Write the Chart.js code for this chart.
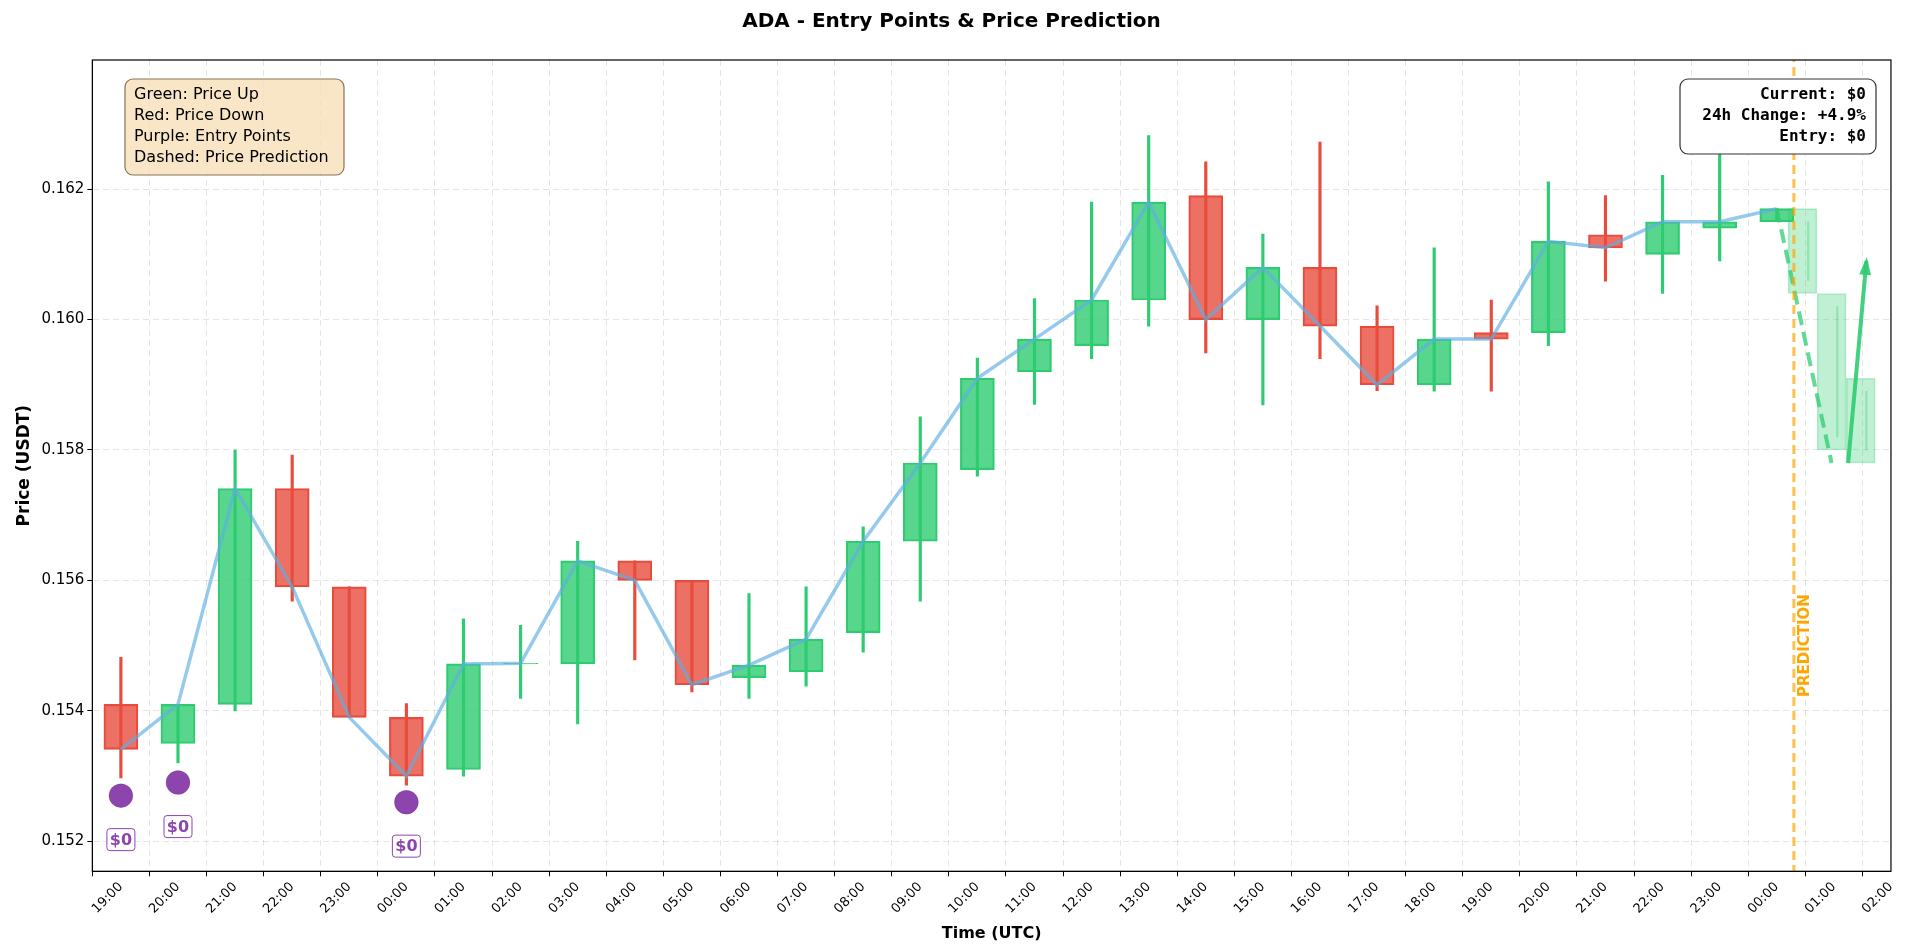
<!DOCTYPE html>
<html lang="en">
<head>
  <meta charset="UTF-8" />
  <title>ADA - Entry Points & Price Prediction</title>
  <script src="https://cdn.jsdelivr.net/npm/chart.js"></script>
  <style>
    body { margin: 0; background: #fff; }
    #wrap { width: 1905px; height: 947px; }
  </style>
</head>
<body>
  <div id="wrap"><canvas id="chart" width="1905" height="947"></canvas></div>
  <script>
    const timeLabels = ["19:00","20:00","21:00","22:00","23:00","00:00","01:00","02:00","03:00","04:00","05:00","06:00","07:00","08:00","09:00","10:00","11:00","12:00","13:00","14:00","15:00","16:00","17:00","18:00","19:00","20:00","21:00","22:00","23:00","00:00","01:00","02:00"];
    const opens  = [0.1541,0.1535,0.1541,0.15741,0.1559,0.1539,0.1531,0.15472,0.15472,0.1563,0.1560,0.15451,0.1546,0.1552,0.1566,0.1577,0.1592,0.1596,0.1603,0.1619,0.1600,0.1608,0.1599,0.1590,0.1598,0.1598,0.1613,0.1610,0.1614,0.1615];
    const closes = [0.15341,0.1541,0.15741,0.1559,0.1539,0.1530,0.15472,0.15473,0.1563,0.1560,0.1544,0.1547,0.1551,0.1566,0.1578,0.1591,0.1597,0.1603,0.1618,0.1600,0.1608,0.1599,0.1590,0.1597,0.1597,0.1612,0.1611,0.1615,0.1615,0.1617];
    const highs  = [0.15482,0.1541,0.1580,0.15792,0.1559,0.15411,0.15541,0.15531,0.1566,0.1563,0.1560,0.1558,0.1559,0.15682,0.15851,0.15941,0.16032,0.1618,0.16282,0.16242,0.16131,0.16272,0.16021,0.1611,0.1603,0.16211,0.1619,0.16221,0.1626,0.1617];
    const lows   = [0.15297,0.1532,0.1540,0.15568,0.1539,0.15286,0.1530,0.15419,0.1538,0.15478,0.15429,0.15419,0.15438,0.1549,0.15568,0.1576,0.1587,0.1594,0.1599,0.15949,0.15869,0.1594,0.15891,0.1589,0.1589,0.1596,0.16059,0.1604,0.1609,0.1615];
    const entryIdx = [0, 1, 5];
    const entryPrices = [0.1527, 0.1529, 0.1526];
    const predX = [29.45, 29.96, 30.47];
    const predOpen = [0.1617, 0.1604, 0.1591];
    const predClose = [0.1604, 0.1580, 0.1578];
    const predLine = [0.1617, 0.1578];
    const arrowPts = [0.1578, 0.1609];
    const predictionAt = 29.3;
    const yTicks = [0.152, 0.154, 0.156, 0.158, 0.160, 0.162];

    const GREEN = "rgba(46,204,113,0.8)";
    const RED = "rgba(231,76,60,0.8)";
    const up = opens.map((o, i) => closes[i] >= o);

    const bodies = opens.map((o, i) => ({ x: i, y: [o, closes[i]] }));
    const wicks = opens.map((o, i) => ({ x: i, y: [lows[i], highs[i]] }));
    const preds = predX.map((x, i) => ({ x: x, y: [predOpen[i], predClose[i]] }));
    const predWicks = predX.map((x, i) => ({ x: x + 0.1, y: [predClose[i] + 0.0002, predOpen[i] - 0.0002] }));

    const overlay = {
      id: "overlay",
      afterDraw(chart) {
        const { ctx, chartArea: a, scales: { x, y } } = chart;
        ctx.save();
        ctx.strokeStyle = "#000"; ctx.lineWidth = 1.2;
        ctx.strokeRect(a.left, a.top, a.right - a.left, a.bottom - a.top);
        // arrow head
        const x1 = x.getPixelForValue(30.25), y1 = y.getPixelForValue(arrowPts[0]);
        const x2 = x.getPixelForValue(30.57), y2 = y.getPixelForValue(arrowPts[1]);
        const ang = Math.atan2(y2 - y1, x2 - x1);
        ctx.fillStyle = "rgba(46,204,113,0.9)";
        ctx.beginPath();
        ctx.moveTo(x2 + 4 * Math.cos(ang), y2 + 4 * Math.sin(ang));
        ctx.lineTo(x2 - 14 * Math.cos(ang) + 6 * Math.sin(ang), y2 - 14 * Math.sin(ang) - 6 * Math.cos(ang));
        ctx.lineTo(x2 - 14 * Math.cos(ang) - 6 * Math.sin(ang), y2 - 14 * Math.sin(ang) + 6 * Math.cos(ang));
        ctx.closePath(); ctx.fill();
        // entry labels
        ctx.font = "bold 16px 'DejaVu Sans'";
        ctx.textAlign = "center"; ctx.textBaseline = "middle";
        entryIdx.forEach((idx, i) => {
          const px = x.getPixelForValue(idx), py = y.getPixelForValue(entryPrices[i]) + 44;
          ctx.fillStyle = "#fff"; ctx.strokeStyle = "#8e44ad"; ctx.lineWidth = 1;
          roundRect(ctx, px - 14, py - 11, 28, 22, 3); ctx.fill(); ctx.stroke();
          ctx.fillStyle = "#8e44ad"; ctx.fillText("$0", px, py + 1);
        });
        // prediction label
        ctx.save();
        ctx.translate(x.getPixelForValue(predictionAt) + 11, y.getPixelForValue(0.1550));
        ctx.rotate(-Math.PI / 2);
        ctx.fillStyle = "orange"; ctx.font = "bold 15px 'DejaVu Sans'";
        ctx.fillText("PREDICTION", 0, 0);
        ctx.restore();
        // legend box
        ctx.fillStyle = "rgba(245,222,179,0.75)"; ctx.strokeStyle = "#8b7355"; ctx.lineWidth = 1.2;
        roundRect(ctx, 125, 79, 219, 96, 8); ctx.fill(); ctx.stroke();
        ctx.fillStyle = "#000"; ctx.font = "16px 'DejaVu Sans'"; ctx.textAlign = "left";
        ["Green: Price Up", "Red: Price Down", "Purple: Entry Points", "Dashed: Price Prediction"]
          .forEach((t, i) => ctx.fillText(t, 134, 95 + i * 21));
        // info box
        ctx.fillStyle = "#fff"; ctx.strokeStyle = "#333";
        roundRect(ctx, 1680, 79, 196, 75, 8); ctx.fill(); ctx.stroke();
        ctx.fillStyle = "#000"; ctx.font = "bold 16px 'DejaVu Sans Mono'"; ctx.textAlign = "right";
        ["Current: $0", "24h Change: +4.9%", "Entry: $0"].forEach((t, i) => ctx.fillText(t, 1866, 95 + i * 21));
        ctx.restore();
      }
    };
    function roundRect(ctx, x, y, w, h, r) {
      ctx.beginPath();
      ctx.moveTo(x + r, y); ctx.arcTo(x + w, y, x + w, y + h, r); ctx.arcTo(x + w, y + h, x, y + h, r);
      ctx.arcTo(x, y + h, x, y, r); ctx.arcTo(x, y, x + w, y, r); ctx.closePath();
    }

    new Chart(document.getElementById("chart"), {
      data: {
        datasets: [
          { type: "line", data: [{ x: predictionAt, y: 0.1515 }, { x: predictionAt, y: 0.1641 }], borderColor: "rgba(255,165,0,0.7)", borderWidth: 3, borderDash: [9, 5], pointRadius: 0, order: 1 },
          { type: "bar", data: wicks, backgroundColor: up.map(u => u ? "#2ecc71" : "#e74c3c"), barThickness: 2.5, grouped: false, order: 5 },
          { type: "bar", data: bodies, backgroundColor: up.map(u => u ? GREEN : RED), borderColor: up.map(u => u ? "#2ecc71" : "#e74c3c"), borderWidth: 1.5, borderSkipped: false, barThickness: 34, grouped: false, order: 4 },
          { type: "bar", data: predWicks, backgroundColor: "rgba(46,204,113,0.35)", barThickness: 1.5, grouped: false, order: 3 },
          { type: "bar", data: preds, backgroundColor: "rgba(46,204,113,0.3)", borderColor: "rgba(46,204,113,0.35)", borderWidth: 1, borderSkipped: false, barThickness: 29, grouped: false, order: 4 },
          { type: "line", data: closes.map((c, i) => ({ x: i, y: c })), borderColor: "rgba(93,173,226,0.65)", borderWidth: 3.5, pointRadius: 0, order: 3 },
          { type: "line", data: [{ x: 29, y: predLine[0] }, { x: 29.96, y: predLine[1] }], borderColor: "rgba(46,204,113,0.75)", borderWidth: 4, borderDash: [14, 7], pointRadius: 0, order: 2 },
          { type: "line", data: [{ x: 30.25, y: arrowPts[0] }, { x: 30.57, y: arrowPts[1] }], borderColor: "rgba(46,204,113,0.9)", borderWidth: 4, pointRadius: 0, order: 2 },
          { type: "scatter", data: entryIdx.map((i, k) => ({ x: i, y: entryPrices[k] })), backgroundColor: "#8e44ad", pointRadius: 12, order: 0 }
        ]
      },
      options: {
        responsive: false,
        animation: false,
        layout: { padding: { left: 10, right: 12, top: 0, bottom: 0 } },
        plugins: {
          legend: { display: false },
          tooltip: { enabled: false },
          title: { display: true, text: "ADA - Entry Points & Price Prediction", font: { family: "DejaVu Sans", size: 20, weight: "bold" }, color: "#000", padding: { top: 10, bottom: 26 } }
        },
        scales: {
          x: {
            type: "linear", min: -0.5, max: 31, offset: false,
            afterBuildTicks: s => { s.ticks = timeLabels.map((_, i) => ({ value: i })); },
            ticks: { autoSkip: false, maxRotation: 45, minRotation: 45, color: "#000", font: { family: "DejaVu Sans", size: 13 }, callback: v => timeLabels[v] },
            grid: { color: "rgba(0,0,0,0.1)", tickColor: "#000", tickLength: 5 },
            border: { dash: [6, 4], color: "#000" },
            title: { display: true, text: "Time (UTC)", color: "#000", font: { family: "DejaVu Sans", size: 16, weight: "bold" } }
          },
          y: {
            min: 0.15154, max: 0.16398,
            afterBuildTicks: s => { s.ticks = yTicks.map(v => ({ value: v })); },
            ticks: { color: "#000", font: { family: "DejaVu Sans", size: 15 }, callback: v => v.toFixed(3) },
            grid: { color: "rgba(0,0,0,0.1)", tickColor: "#000", tickLength: 5 },
            border: { dash: [6, 4], color: "#000" },
            title: { display: true, text: "Price (USDT)", color: "#000", font: { family: "DejaVu Sans", size: 17, weight: "bold" } }
          }
        }
      },
      plugins: [overlay]
    });
  </script>
</body>
</html>
